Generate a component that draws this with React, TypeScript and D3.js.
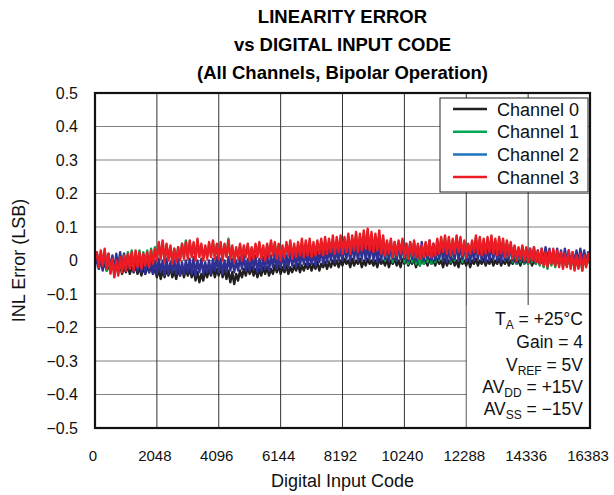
import React from "react";
import * as d3 from "d3";

const W = 614;
const H = 495;

const titleLines = ["LINEARITY ERROR", "vs DIGITAL INPUT CODE", "(All Channels, Bipolar Operation)"];
const xTicks = [0, 2048, 4096, 6144, 8192, 10240, 12288, 14336, 16383];
const yTicks = [0.5, 0.4, 0.3, 0.2, 0.1, 0, -0.1, -0.2, -0.3, -0.4, -0.5];
const seriesNames = ["Channel 0", "Channel 1", "Channel 2", "Channel 3"];
const seriesColors = ["#231f20", "#00a651", "#2e3192", "#ed1c24"];
const legendColors = ["#231f20", "#00a651", "#1c75bc", "#ed1c24"];

// INL error (LSB), sampled every 64 codes from 0 to 16384 (one row per 1024 codes)
const ch0 = [
  -0.01, 0.005, -0.02, 0.0, -0.025, -0.005, -0.03, -0.01, -0.035, -0.015, -0.03, -0.01, -0.035, -0.015, -0.04, -0.02,
  -0.035, -0.015, -0.04, -0.02, -0.035, -0.015, -0.04, -0.02, -0.045, -0.02, -0.04, -0.015, -0.035, -0.015, -0.04, -0.02,
  -0.05, -0.025, -0.055, -0.03, -0.05, -0.025, -0.045, -0.02, -0.05, -0.03, -0.055, -0.025, -0.045, -0.02, -0.05, -0.025,
  -0.045, -0.025, -0.05, -0.03, -0.06, -0.035, -0.065, -0.04, -0.06, -0.03, -0.05, -0.025, -0.045, -0.02, -0.05, -0.025,
  -0.045, -0.02, -0.05, -0.025, -0.055, -0.03, -0.065, -0.035, -0.07, -0.04, -0.06, -0.03, -0.05, -0.025, -0.045, -0.02,
  -0.04, -0.02, -0.045, -0.025, -0.05, -0.025, -0.045, -0.02, -0.04, -0.02, -0.045, -0.025, -0.04, -0.015, -0.035, -0.015,
  -0.04, -0.02, -0.035, -0.015, -0.04, -0.02, -0.035, -0.015, -0.03, -0.01, -0.035, -0.015, -0.03, -0.01, -0.025, -0.01,
  -0.03, -0.01, -0.025, -0.005, -0.03, -0.01, -0.02, -0.005, -0.025, -0.005, -0.02, 0.0, -0.015, 0.0, -0.02, 0.0,
  -0.015, 0.005, -0.01, 0.0, -0.02, 0.005, -0.015, 0.0, -0.01, 0.005, -0.02, 0.0, -0.015, 0.005, -0.01, 0.0,
  -0.015, 0.0, -0.02, 0.005, -0.01, 0.0, -0.015, 0.005, -0.02, 0.0, -0.01, 0.005, -0.015, 0.0, -0.02, 0.005,
  -0.01, 0.005, -0.015, 0.0, -0.01, 0.005, -0.02, 0.0, -0.015, 0.005, -0.01, 0.0, -0.015, 0.005, -0.01, 0.0,
  -0.015, 0.005, -0.01, 0.0, -0.02, 0.005, -0.015, 0.0, -0.01, 0.005, -0.015, 0.0, -0.02, 0.005, -0.01, 0.0,
  -0.015, 0.005, -0.02, 0.0, -0.01, 0.005, -0.015, 0.0, -0.01, 0.005, -0.015, 0.0, -0.01, 0.005, -0.015, 0.0,
  -0.01, 0.005, -0.015, 0.0, -0.01, 0.005, -0.015, 0.0, -0.01, 0.005, -0.01, 0.0, -0.015, 0.005, -0.01, 0.0,
  -0.01, 0.005, -0.015, 0.0, -0.01, 0.005, -0.01, 0.0, -0.015, 0.005, -0.01, 0.0, -0.01, 0.005, -0.015, 0.0,
  -0.01, 0.005, -0.01, 0.0, -0.015, 0.005, -0.01, 0.0, -0.01, 0.005, -0.015, 0.0, -0.01, 0.005, -0.01, 0.0, -0.005,
];
const ch1 = [
  -0.005, 0.02, -0.025, 0.025, -0.02, 0.03, -0.03, 0.015, -0.035, 0.01, -0.045, 0.005, -0.04, 0.015, -0.03, 0.02,
  -0.025, 0.025, -0.02, 0.03, -0.025, 0.025, -0.015, 0.03, -0.02, 0.025, -0.01, 0.03, -0.015, 0.035, -0.005, 0.04,
  0.005, 0.05, 0.01, 0.055, 0.0, 0.045, 0.005, 0.04, -0.005, 0.035, 0.0, 0.04, 0.005, 0.05, 0.01, 0.06,
  0.01, 0.055, 0.015, 0.05, 0.005, 0.06, 0.015, 0.045, 0.005, 0.04, 0.01, 0.05, 0.015, 0.055, 0.01, 0.045,
  0.01, 0.05, 0.005, 0.045, 0.015, 0.065, 0.01, 0.04, 0.0, 0.035, 0.01, 0.045, 0.005, 0.04, 0.015, 0.045,
  0.005, 0.035, 0.01, 0.045, 0.015, 0.05, 0.01, 0.04, 0.005, 0.045, 0.015, 0.055, 0.02, 0.05, 0.01, 0.045,
  0.005, 0.04, 0.01, 0.045, 0.015, 0.05, 0.005, 0.04, 0.01, 0.045, 0.015, 0.05, 0.01, 0.05, 0.015, 0.055,
  0.01, 0.045, 0.015, 0.05, 0.02, 0.055, 0.015, 0.06, 0.02, 0.055, 0.02, 0.06, 0.015, 0.055, 0.02, 0.06,
  0.01, 0.065, 0.015, 0.07, 0.01, 0.065, 0.015, 0.075, 0.01, 0.07, 0.015, 0.08, 0.02, 0.085, 0.015, 0.075,
  0.01, 0.07, 0.015, 0.075, 0.005, 0.065, 0.0, 0.055, 0.005, 0.06, -0.005, 0.05, 0.0, 0.055, 0.005, 0.06,
  -0.005, 0.045, -0.01, 0.05, -0.005, 0.055, -0.01, 0.045, -0.015, 0.04, -0.01, 0.05, -0.005, 0.055, -0.01, 0.045,
  -0.005, 0.06, 0.0, 0.065, 0.005, 0.07, 0.0, 0.065, -0.005, 0.06, 0.0, 0.07, 0.005, 0.065, -0.005, 0.055,
  0.0, 0.045, 0.01, 0.055, 0.015, 0.07, 0.01, 0.065, 0.005, 0.06, 0.01, 0.065, 0.015, 0.07, 0.01, 0.06,
  0.005, 0.065, 0.01, 0.06, 0.0, 0.055, 0.005, 0.05, -0.005, 0.04, -0.01, 0.035, -0.005, 0.04, -0.01, 0.035,
  -0.01, 0.025, -0.005, 0.03, -0.01, 0.02, -0.015, 0.025, -0.02, 0.015, -0.025, 0.02, -0.015, 0.025, -0.02, 0.02,
  -0.015, 0.015, -0.02, 0.01, -0.015, 0.02, -0.02, 0.015, -0.025, 0.005, -0.02, 0.01, -0.03, 0.005, -0.015, 0.01, -0.01,
];
const ch2 = [
  -0.02, 0.02, -0.025, 0.015, -0.03, 0.025, -0.02, 0.02, -0.025, 0.015, -0.03, 0.02, -0.02, 0.025, -0.025, 0.02,
  -0.03, 0.015, -0.025, 0.02, -0.035, 0.01, -0.03, 0.02, -0.035, 0.015, -0.04, 0.01, -0.035, 0.005, -0.04, 0.0,
  -0.04, 0.005, -0.035, 0.0, -0.045, 0.005, -0.04, -0.005, -0.035, 0.0, -0.04, 0.005, -0.045, -0.005, -0.04, 0.0,
  -0.035, 0.005, -0.04, 0.01, -0.045, 0.0, -0.035, 0.005, -0.04, -0.005, -0.035, 0.0, -0.04, 0.005, -0.03, 0.01,
  -0.035, 0.005, -0.04, 0.0, -0.035, 0.01, -0.03, 0.005, -0.035, 0.0, -0.03, 0.01, -0.025, 0.015, -0.03, 0.005,
  -0.03, 0.01, -0.025, 0.015, -0.035, 0.005, -0.03, 0.01, -0.025, 0.02, -0.03, 0.015, -0.02, 0.02, -0.025, 0.015,
  -0.02, 0.02, -0.025, 0.015, -0.02, 0.025, -0.015, 0.02, -0.02, 0.03, -0.015, 0.025, -0.01, 0.03, -0.015, 0.025,
  -0.01, 0.03, -0.015, 0.025, -0.005, 0.035, -0.01, 0.03, -0.005, 0.035, 0.0, 0.04, -0.005, 0.035, 0.0, 0.04,
  0.0, 0.045, 0.005, 0.04, 0.0, 0.05, 0.005, 0.045, 0.0, 0.05, 0.005, 0.055, 0.0, 0.045, 0.005, 0.05,
  0.0, 0.045, -0.005, 0.05, 0.0, 0.055, 0.005, 0.05, 0.0, 0.045, 0.005, 0.055, 0.0, 0.05, 0.005, 0.045,
  0.005, 0.05, 0.0, 0.055, 0.005, 0.05, 0.0, 0.045, 0.005, 0.055, 0.0, 0.05, 0.005, 0.06, 0.0, 0.05,
  0.0, 0.045, 0.005, 0.05, 0.0, 0.04, -0.005, 0.045, 0.0, 0.05, 0.005, 0.055, 0.0, 0.045, 0.005, 0.05,
  0.0, 0.045, -0.005, 0.04, 0.0, 0.05, 0.005, 0.045, 0.0, 0.04, -0.005, 0.045, 0.0, 0.05, 0.005, 0.045,
  0.0, 0.04, -0.005, 0.045, 0.0, 0.05, 0.005, 0.045, 0.0, 0.04, -0.005, 0.035, 0.0, 0.04, -0.005, 0.035,
  -0.005, 0.035, 0.0, 0.04, -0.005, 0.03, -0.01, 0.035, -0.005, 0.04, 0.0, 0.035, -0.005, 0.03, -0.01, 0.035,
  -0.005, 0.03, -0.01, 0.035, -0.005, 0.03, -0.01, 0.025, -0.005, 0.03, -0.01, 0.035, -0.005, 0.03, -0.01, 0.025, -0.005,
];
const ch3 = [
  0.0, 0.025, -0.02, 0.03, -0.015, 0.035, -0.025, 0.02, -0.04, 0.005, -0.05, 0.0, -0.045, 0.01, -0.035, 0.015,
  -0.03, 0.02, -0.025, 0.025, -0.03, 0.03, -0.02, 0.025, -0.025, 0.02, -0.015, 0.025, -0.02, 0.03, -0.01, 0.035,
  0.0, 0.055, 0.005, 0.06, -0.005, 0.05, 0.0, 0.045, -0.01, 0.035, -0.005, 0.04, 0.0, 0.05, 0.005, 0.055,
  0.005, 0.06, 0.01, 0.055, 0.0, 0.065, 0.01, 0.05, 0.0, 0.045, 0.005, 0.055, 0.01, 0.06, 0.005, 0.05,
  0.005, 0.055, 0.0, 0.05, 0.01, 0.06, 0.005, 0.045, -0.005, 0.04, 0.005, 0.05, 0.0, 0.045, 0.01, 0.05,
  0.0, 0.04, 0.005, 0.05, 0.01, 0.055, 0.005, 0.045, 0.0, 0.05, 0.01, 0.06, 0.015, 0.055, 0.005, 0.05,
  0.0, 0.045, 0.01, 0.055, 0.015, 0.06, 0.005, 0.05, 0.01, 0.055, 0.015, 0.065, 0.01, 0.06, 0.015, 0.065,
  0.01, 0.055, 0.015, 0.06, 0.02, 0.065, 0.015, 0.07, 0.02, 0.065, 0.025, 0.075, 0.02, 0.07, 0.025, 0.075,
  0.02, 0.07, 0.025, 0.08, 0.02, 0.075, 0.03, 0.085, 0.025, 0.08, 0.03, 0.09, 0.035, 0.095, 0.03, 0.085,
  0.025, 0.08, 0.03, 0.09, 0.02, 0.075, 0.015, 0.06, 0.02, 0.065, 0.01, 0.055, 0.015, 0.06, 0.02, 0.065,
  0.01, 0.05, 0.005, 0.055, 0.015, 0.06, 0.01, 0.05, 0.005, 0.045, 0.01, 0.055, 0.015, 0.06, 0.01, 0.05,
  0.015, 0.065, 0.02, 0.07, 0.025, 0.075, 0.02, 0.07, 0.015, 0.065, 0.02, 0.075, 0.025, 0.07, 0.015, 0.06,
  0.01, 0.05, 0.02, 0.06, 0.025, 0.075, 0.02, 0.07, 0.015, 0.065, 0.02, 0.07, 0.025, 0.075, 0.02, 0.065,
  0.015, 0.07, 0.02, 0.065, 0.01, 0.06, 0.015, 0.055, 0.005, 0.045, 0.0, 0.04, 0.005, 0.045, 0.0, 0.04,
  -0.005, 0.035, 0.0, 0.04, -0.005, 0.03, -0.01, 0.035, -0.015, 0.025, -0.02, 0.03, -0.01, 0.035, -0.015, 0.03,
  -0.02, 0.025, -0.025, 0.02, -0.02, 0.03, -0.025, 0.025, -0.03, 0.015, -0.025, 0.02, -0.03, 0.015, -0.02, 0.02, -0.01,
];
const seriesValues = [ch0, ch1, ch2, ch3];
const codeStep = 64;

const FONT = "'Liberation Sans', Arial, Helvetica, sans-serif";

export default function App() {
  const left = 95, right = 590, top = 93, bottom = 428;
  const x = d3.scaleLinear().domain([0, 16383]).range([left, right]);
  const y = d3.scaleLinear().domain([-0.5, 0.5]).range([bottom, top]);
  const line = d3
    .line<number>()
    .x((_, i) => x(Math.min(i * codeStep, 16383)))
    .y((v) => y(v));
  const fmtY = (v: number) => (v === 0 ? "0" : (v < 0 ? "\u2212" : "") + Math.abs(v).toFixed(1));
  const cx = (left + right) / 2;

  const legX = 440, legY = 98, legW = 148, legH = 94;
  const annX = 583;
  const annLines: { main: string; sub?: string; rest: string }[] = [
    { main: "T", sub: "A", rest: " = +25\u00B0C" },
    { main: "Gain = 4", rest: "" },
    { main: "V", sub: "REF", rest: " = 5V" },
    { main: "AV", sub: "DD", rest: " = +15V" },
    { main: "AV", sub: "SS", rest: " = \u221215V" },
  ];
  const annBase = [325, 348, 371, 393, 415];

  return (
    <svg
      width={W}
      height={H}
      style={{ position: "absolute", left: 0, top: 0, background: "#fff" }}
      fontFamily={FONT}
    >
      <defs>
        <clipPath id="plotclip">
          <rect x={left} y={top} width={right - left} height={bottom - top} />
        </clipPath>
      </defs>
      <rect x={0} y={0} width={W} height={H} fill="#fff" />
      {titleLines.map((t, i) => (
        <text key={t} x={cx} y={23 + i * 28} textAnchor="middle" fontWeight="bold" fontSize={18.5} fill="#000">
          {t}
        </text>
      ))}
      {/* grid */}
      {yTicks.map((t) => (
        <line key={"gy" + t} x1={left} x2={right} y1={y(t)} y2={y(t)} stroke="#808080" strokeWidth={1.2} />
      ))}
      {xTicks.map((t) => (
        <line key={"gx" + t} x1={x(t)} x2={x(t)} y1={top} y2={bottom} stroke="#333" strokeWidth={1} />
      ))}
      {/* data */}
      <g clipPath="url(#plotclip)">
        {seriesValues.map((vals, k) => (
          <path
            key={seriesNames[k]}
            d={line(vals) || ""}
            fill="none"
            stroke={seriesColors[k]}
            strokeWidth={2.4}
            strokeLinejoin="round"
          />
        ))}
      </g>
      {/* annotation box */}
      <rect x={x(12288) + 0.5} y={305} width={right - x(12288) - 0.5} height={bottom - 305} fill="#fff" />
      {annLines.map((l, i) => (
        <text key={i} x={annX} y={annBase[i]} textAnchor="end" fontSize={17.5} fill="#111">
          <tspan>{l.main}</tspan>
          {l.sub ? (
            <tspan fontSize={12} dy={3.5}>
              {l.sub}
            </tspan>
          ) : null}
          {l.rest ? <tspan dy={l.sub ? -3.5 : 0}>{l.rest}</tspan> : null}
        </text>
      ))}
      {/* legend */}
      <rect x={legX} y={legY} width={legW} height={legH} fill="#fff" stroke="#222" strokeWidth={1} />
      {seriesNames.map((n, i) => (
        <g key={n}>
          <line x1={453} x2={487} y1={109 + i * 22.7} y2={109 + i * 22.7} stroke={legendColors[i]} strokeWidth={2.5} />
          <text x={497} y={115.5 + i * 22.7} fontSize={18} fill="#111">
            {n}
          </text>
        </g>
      ))}
      {/* frame */}
      <rect x={left} y={top} width={right - left} height={bottom - top} fill="none" stroke="#111" strokeWidth={2.2} />
      {/* y tick labels */}
      {yTicks.map((t) => (
        <text key={"ty" + t} x={78} y={y(t) + 5.5} textAnchor="end" fontSize={16} fill="#111">
          {fmtY(t)}
        </text>
      ))}
      {/* x tick labels */}
      {xTicks.map((t) => (
        <text key={"tx" + t} x={x(t) - 2} y={461} textAnchor="middle" fontSize={15} fill="#111">
          {t}
        </text>
      ))}
      <text x={cx} y={487} textAnchor="middle" fontSize={18} fill="#111">
        Digital Input Code
      </text>
      <text transform={`translate(25, ${(top + bottom) / 2}) rotate(-90)`} textAnchor="middle" fontSize={18} fill="#111">
        INL Error (LSB)
      </text>
    </svg>
  );
}
